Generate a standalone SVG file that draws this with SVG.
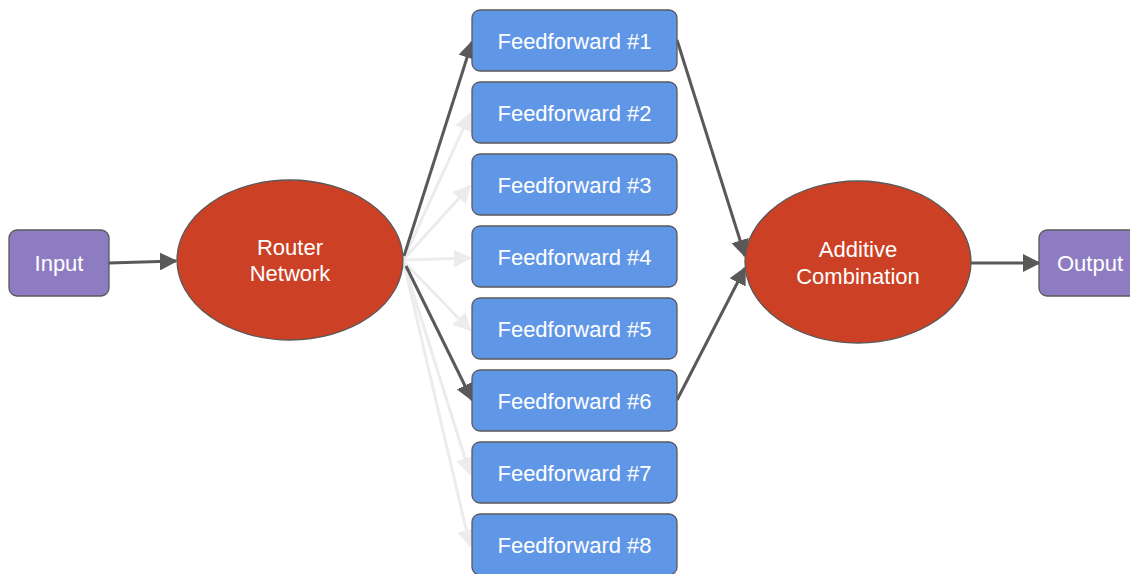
<svg xmlns="http://www.w3.org/2000/svg" width="1130" height="574" viewBox="0 0 1130 574">
<defs>
<style>
.t{font-family:"Liberation Sans",Arial,sans-serif;font-size:22px;fill:#ffffff;text-anchor:middle;dominant-baseline:central}
.io{fill:#8e7cc3;stroke:#595959;stroke-width:1.3}
.ff{fill:#6096e6;stroke:#595959;stroke-width:1.3}
.el{fill:#cc4125;stroke:#595959;stroke-width:1.3}
.d{stroke:#595959;stroke-width:3;fill:none}
.l{stroke:#ececec;stroke-width:3;fill:none}
</style>
<marker id="ad" viewBox="0 0 10 10" refX="9" refY="5" markerWidth="6" markerHeight="6" markerUnits="strokeWidth" orient="auto"><path d="M0,0 L10,5 L0,10 z" fill="#595959"/></marker>
<marker id="al" viewBox="0 0 10 10" refX="9" refY="5" markerWidth="6" markerHeight="6" markerUnits="strokeWidth" orient="auto"><path d="M0,0 L10,5 L0,10 z" fill="#ececec"/></marker>
</defs>
<rect width="1130" height="574" fill="#ffffff"/>
<g id="connectors">
<line class="l" x1="404" y1="258" x2="470" y2="114" marker-end="url(#al)"/>
<line class="l" x1="404" y1="259" x2="470" y2="186" marker-end="url(#al)"/>
<line class="l" x1="404" y1="260" x2="470" y2="258" marker-end="url(#al)"/>
<line class="l" x1="404" y1="262" x2="470" y2="330" marker-end="url(#al)"/>
<line class="l" x1="404" y1="264" x2="470" y2="474" marker-end="url(#al)"/>
<line class="l" x1="404" y1="264" x2="470" y2="546" marker-end="url(#al)"/>
<line class="d" x1="109" y1="263" x2="176" y2="261" marker-end="url(#ad)"/>
<line class="d" x1="404" y1="256" x2="472" y2="42" marker-end="url(#ad)"/>
<line class="d" x1="406" y1="266" x2="472" y2="400" marker-end="url(#ad)"/>
<line class="d" x1="677" y1="40" x2="745" y2="256" marker-end="url(#ad)"/>
<line class="d" x1="677" y1="400" x2="745" y2="268" marker-end="url(#ad)"/>
<line class="d" x1="971" y1="263" x2="1039" y2="263" marker-end="url(#ad)"/>
</g>
<g id="input"><rect class="io" x="9" y="230" width="100" height="66" rx="8"/><text class="t" x="59" y="263">Input</text></g>
<g id="router"><ellipse class="el" cx="290" cy="260" rx="113" ry="80"/><text class="t" x="290" y="247">Router</text><text class="t" x="290" y="273">Network</text></g>
<g id="ff1"><rect class="ff" x="472" y="10" width="205" height="61" rx="8"/><text class="t" x="574.5" y="41">Feedforward #1</text></g>
<g id="ff2"><rect class="ff" x="472" y="82" width="205" height="61" rx="8"/><text class="t" x="574.5" y="113">Feedforward #2</text></g>
<g id="ff3"><rect class="ff" x="472" y="154" width="205" height="61" rx="8"/><text class="t" x="574.5" y="185">Feedforward #3</text></g>
<g id="ff4"><rect class="ff" x="472" y="226" width="205" height="61" rx="8"/><text class="t" x="574.5" y="257">Feedforward #4</text></g>
<g id="ff5"><rect class="ff" x="472" y="298" width="205" height="61" rx="8"/><text class="t" x="574.5" y="329">Feedforward #5</text></g>
<g id="ff6"><rect class="ff" x="472" y="370" width="205" height="61" rx="8"/><text class="t" x="574.5" y="401">Feedforward #6</text></g>
<g id="ff7"><rect class="ff" x="472" y="442" width="205" height="61" rx="8"/><text class="t" x="574.5" y="473">Feedforward #7</text></g>
<g id="ff8"><rect class="ff" x="472" y="514" width="205" height="61" rx="8"/><text class="t" x="574.5" y="545">Feedforward #8</text></g>
<g id="additive"><ellipse class="el" cx="858" cy="262" rx="113" ry="81"/><text class="t" x="858" y="249">Additive</text><text class="t" x="858" y="276">Combination</text></g>
<g id="output"><rect class="io" x="1039" y="230" width="100" height="66" rx="8"/><text class="t" x="1090" y="263">Output</text></g>
</svg>
